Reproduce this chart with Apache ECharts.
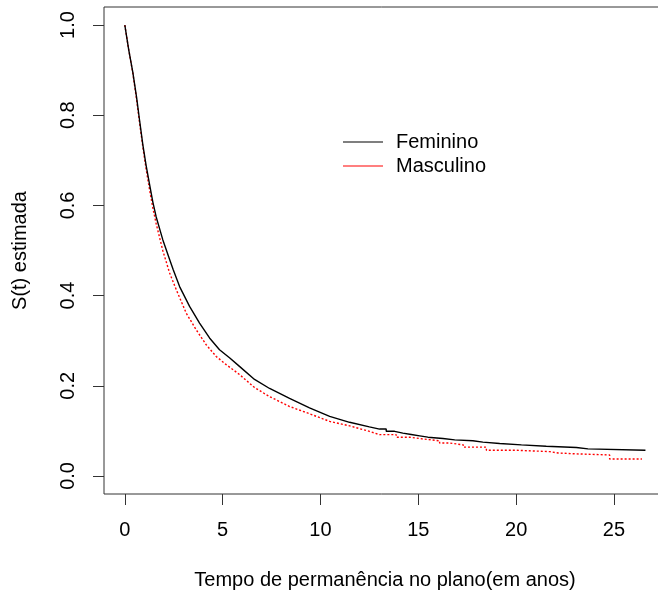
<!DOCTYPE html>
<html>
<head>
<meta charset="utf-8">
<script src="https://cdn.jsdelivr.net/npm/echarts@6/dist/echarts.min.js"></script>
<style>
  html, body { margin: 0; padding: 0; background: #fff; }
  #chart { width: 658px; height: 596px; }
</style>
</head>
<body>
<div id="chart"></div>
<script>
// Kaplan-Meier estimates
// smooth early part (many tiny steps, drawn as a line)
var femTimes = [0, 0.2, 0.41, 0.6, 0.75, 0.92, 1.09, 1.26, 1.43, 1.6, 1.94, 2.29, 2.47, 2.8, 3.31, 3.82, 4.33, 4.84, 5.35, 5.86, 6.63, 7.4, 8.42, 9.44, 10.47, 11.49, 12.5, 13.02];
var femSurv  = [1.0, 0.945, 0.895, 0.84, 0.79, 0.735, 0.688, 0.648, 0.608, 0.575, 0.524, 0.48, 0.458, 0.42, 0.376, 0.339, 0.306, 0.28, 0.262, 0.243, 0.214, 0.194, 0.172, 0.151, 0.132, 0.119, 0.109, 0.104];
// visible steps in the tail
var femStepTimes = [13.36, 13.79, 14.21, 14.64, 15.07, 15.49, 16.26, 16.86, 17.79, 18.3, 19.16, 20.27, 21.54, 23.08, 23.67];
var femStepSurv  = [0.099, 0.095, 0.092, 0.089, 0.086, 0.083, 0.08, 0.078, 0.075, 0.072, 0.069, 0.066, 0.063, 0.06, 0.057];
var femEnd = 26.61;

var mascTimes = [0, 0.2, 0.41, 0.6, 0.75, 0.92, 1.09, 1.26, 1.43, 1.6, 1.94, 2.29, 2.63, 3.14, 3.65, 4.16, 4.67, 5.18, 5.86, 6.63, 7.4, 8.42, 9.44, 10.47, 11.49, 12.5, 13.02];
var mascSurv  = [1.0, 0.945, 0.893, 0.835, 0.785, 0.73, 0.68, 0.636, 0.595, 0.56, 0.5, 0.45, 0.413, 0.361, 0.324, 0.291, 0.265, 0.247, 0.225, 0.196, 0.176, 0.154, 0.138, 0.121, 0.111, 0.099, 0.0916];
var mascStepTimes = [13.87, 14.56, 15.24, 16.09, 16.6, 17.3, 18.48, 20.01, 21.71, 22.14, 23.08, 24.78];
var mascStepSurv  = [0.086, 0.082, 0.078, 0.073, 0.069, 0.064, 0.057, 0.054, 0.051, 0.049, 0.0466, 0.0377];
var mascEnd = 26.43;

var xTicks = [0, 5, 10, 15, 20, 25];
var yTicks = [0, 0.2, 0.4, 0.6, 0.8, 1.0];
var groups = ['Feminino', 'Masculino'];

function buildCurve(times, surv, stepTimes, stepSurv, tEnd) {
    var pts = [];
    for (var i = 0; i < times.length; i++) {
        pts.push([times[i], surv[i]]);
    }
    var last = surv[surv.length - 1];
    for (var j = 0; j < stepTimes.length; j++) {
        pts.push([stepTimes[j], last]);
        pts.push([stepTimes[j], stepSurv[j]]);
        last = stepSurv[j];
    }
    pts.push([tEnd, last]);
    return pts;
}

var font = "'Liberation Sans', Arial, sans-serif";
var myChart = echarts.init(document.getElementById('chart'), null, { renderer: 'canvas' });

var option = {
    backgroundColor: '#fff',
    animation: false,
    textStyle: { fontFamily: font },
    grid: {
        left: 104,
        top: 7,
        width: 562,
        height: 487,
        outerBoundsMode: 'none',
        containLabel: false,
        show: true,
        borderColor: '#333',
        borderWidth: 1,
        backgroundColor: 'transparent'
    },
    legend: {
        orient: 'vertical',
        left: 338,
        top: 127,
        itemWidth: 40,
        itemHeight: 1,
        itemGap: 4,
        icon: 'rect',
        textStyle: { fontFamily: font, fontSize: 20, color: '#000', padding: [0, 0, 0, 8] },
        data: [
            { name: groups[0], itemStyle: { color: '#000' } },
            { name: groups[1], itemStyle: { color: '#ff0000' } }
        ]
    },
    xAxis: {
        type: 'value',
        min: -1.064,
        max: 27.66,
        name: 'Tempo de permanência no plano(em anos)',
        nameLocation: 'middle',
        nameGap: 76,
        nameTextStyle: { fontFamily: font, fontSize: 20, color: '#000' },
        splitLine: { show: false },
        axisLine: { show: false, onZero: false },
        axisTick: {
            show: true,
            length: 11,
            customValues: xTicks,
            lineStyle: { color: '#333' }
        },
        axisLabel: {
            customValues: xTicks,
            margin: 26,
            fontFamily: font,
            fontSize: 20,
            color: '#000'
        }
    },
    yAxis: {
        type: 'value',
        min: -0.04,
        max: 1.04,
        name: 'S(t) estimada',
        nameLocation: 'middle',
        nameGap: 74,
        nameTextStyle: { fontFamily: font, fontSize: 20, color: '#000' },
        splitLine: { show: false },
        axisLine: { show: false, onZero: false },
        axisTick: {
            show: true,
            length: 11,
            customValues: yTicks,
            lineStyle: { color: '#333' }
        },
        axisLabel: {
            customValues: yTicks,
            rotate: 90,
            margin: 26,
            fontFamily: font,
            fontSize: 20,
            color: '#000',
            formatter: function (v) { return v.toFixed(1); }
        }
    },
    series: [
        {
            name: groups[0],
            type: 'line',
            data: buildCurve(femTimes, femSurv, femStepTimes, femStepSurv, femEnd),
            symbol: 'none',
            lineStyle: { color: '#000', width: 1.4 },
            itemStyle: { color: '#000' },
            z: 3
        },
        {
            name: groups[1],
            type: 'line',
            data: buildCurve(mascTimes, mascSurv, mascStepTimes, mascStepSurv, mascEnd),
            symbol: 'none',
            lineStyle: { color: '#ff0000', width: 1.4, type: [2, 2] },
            itemStyle: { color: '#ff0000' },
            z: 2
        }
    ]
};

option && myChart.setOption(option);

window.addEventListener('resize', function () {
    myChart.resize();
});
</script>
</body>
</html>
